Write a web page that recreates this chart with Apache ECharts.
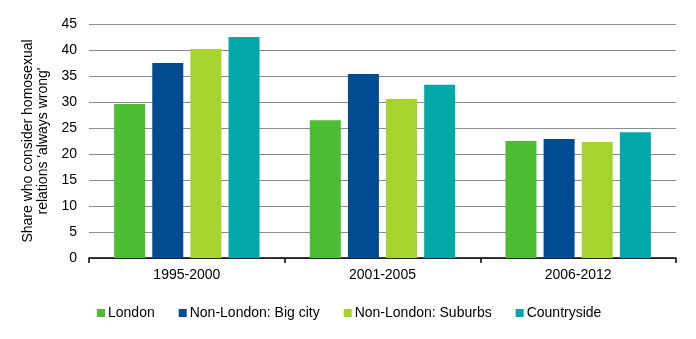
<!DOCTYPE html>
<html><head><meta charset="utf-8">
<script src="https://cdn.jsdelivr.net/npm/echarts@6/dist/echarts.min.js"></script>
<style>html,body{margin:0;padding:0;background:#fff}#c{width:696px;height:339px}</style>
</head><body><div id="c"></div>
<script>
const categories = ['1995-2000', '2001-2005', '2006-2012'];
const seriesNames = ['London', 'Non-London: Big city', 'Non-London: Suburbs', 'Countryside'];
const london = [29.6, 26.5, 22.5];
const bigCity = [37.5, 35.4, 22.9];
const suburbs = [40.2, 30.6, 22.3];
const countryside = [42.5, 33.3, 24.2];
const colors = ['#4dbd33', '#004c93', '#a7d32e', '#00a8a8'];
const values = [london, bigCity, suburbs, countryside];

const FONT = 'Liberation Sans, Arial, sans-serif';
const chart = echarts.init(document.getElementById('c'));
chart.setOption({
  animation: false,
  textStyle: { fontFamily: FONT },
  grid: { left: 89, right: 20, top: 24, bottom: 81 },
  legend: {
    top: 301, left: 92,
    itemWidth: 8, itemHeight: 8, itemGap: 24,
    icon: 'rect',
    textStyle: { fontSize: 14, color: '#000', fontFamily: FONT, padding: [0,0,0,-2] },
    data: seriesNames
  },
  xAxis: {
    type: 'category', data: categories,
    axisLine: { lineStyle: { color: '#000', width: 1.5 } },
    axisTick: { show: true, length: 5, lineStyle: { color: '#000', width: 1.5 } },
    axisLabel: { fontSize: 14, color: '#000', margin: 10 }
  },
  yAxis: {
    type: 'value', min: 0, max: 45, interval: 5,
    name: "Share who consider homosexual\nrelations 'always wrong'",
    nameLocation: 'middle', nameGap: 24,
    nameTextStyle: { fontSize: 14, color: '#000', lineHeight: 15 },
    axisLine: { show: false }, axisTick: { show: false },
    axisLabel: { fontSize: 14, color: '#000', margin: 12 },
    splitLine: { lineStyle: { color: '#8c8c8c', width: 1.2 } }
  },
  series: seriesNames.map((n, i) => ({
    name: n, type: 'bar', data: values[i],
    itemStyle: { color: colors[i] },
    barWidth: 31, barGap: '23%'
  }))
});
</script></body></html>
